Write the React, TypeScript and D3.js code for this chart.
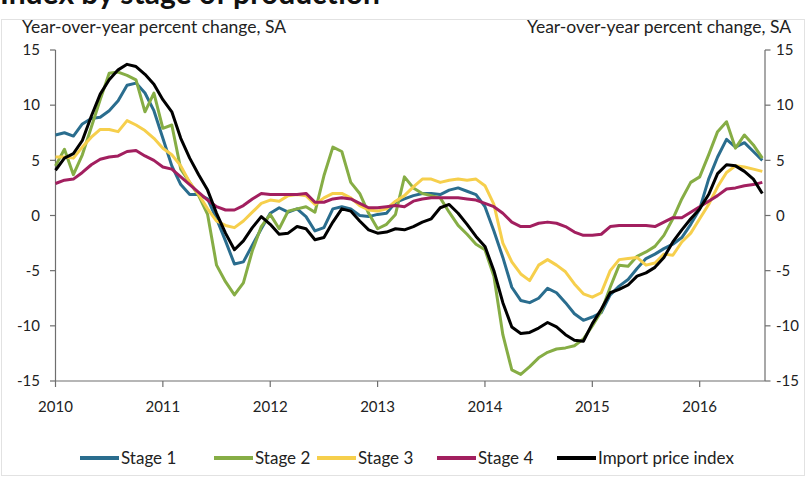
import * as d3 from "d3";

// monthly, Jan 2010 .. Aug 2016
const yearLabels = ["2010", "2011", "2012", "2013", "2014", "2015", "2016"];
const yTicks = [-15, -10, -5, 0, 5, 10, 15];

const stage1 = [
  7.3, 7.5, 7.2, 8.3, 8.8, 8.9, 9.5, 10.4, 11.8, 12.0,
  11.1, 9.5, 7.0, 4.5, 2.8, 1.9, 1.9, 1.5, -0.3, -2.3,
  -4.4, -4.2, -2.7, -1.2, 0.2, 0.7, 0.3, 0.6, -0.1, -1.4,
  -1.1, 0.6, 0.8, 0.6, 0.0, -0.1, 0.1, 0.2, 1.2, 1.5,
  1.8, 2.0, 2.0, 1.9, 2.3, 2.5, 2.2, 1.9, 0.8, -1.4,
  -3.8, -6.5, -7.7, -7.9, -7.5, -6.6, -7.0, -7.9, -8.9, -9.5,
  -9.2, -8.8, -7.2, -6.4, -5.8, -4.8, -3.9, -3.5, -3.0, -2.6,
  -2.0, -0.8, 0.6, 3.3, 5.3, 6.9, 6.2, 6.6, 5.8, 5.0,
];
const stage2 = [
  4.5, 6.0, 3.7, 5.5, 8.0, 10.5, 12.9, 13.0, 12.7, 12.3,
  9.4, 11.1, 7.9, 8.2, 4.2, 3.0, 1.8, 0.1, -4.5, -6.0,
  -7.2, -6.1, -3.2, -1.0, 0.1, -1.2, 0.4, 0.6, 0.8, 0.3,
  3.6, 6.2, 5.8, 3.0, 2.0, 0.2, -1.2, -0.8, 0.1, 3.5,
  2.5, 2.0, 1.8, 1.6, 0.3, -0.9, -1.7, -2.6, -3.1, -5.5,
  -10.8, -14.0, -14.4, -13.7, -12.9, -12.4, -12.1, -12.0, -11.8, -11.2,
  -10.0, -8.7, -6.5, -4.5, -4.6, -3.7, -3.3, -2.8, -1.8, -0.3,
  1.5, 3.0, 3.5, 5.5, 7.6, 8.5, 6.1, 7.3, 6.4, 5.2,
];
const stage3 = [
  5.3, 5.3, 5.2, 6.2, 7.1, 7.8, 7.8, 7.6, 8.6, 8.2,
  7.7, 7.0, 6.1, 5.5, 4.5, 3.0, 1.9, 0.6, -0.5, -0.9,
  -1.1, -0.5, 0.3, 1.1, 1.4, 1.3, 1.8, 1.9, 1.8, 1.0,
  1.6, 2.0, 2.0, 1.6, 0.9, 0.5, 0.4, 0.6, 1.3, 1.8,
  2.6, 3.3, 3.3, 3.0, 3.2, 3.3, 3.2, 3.3, 2.7, 1.0,
  -2.5, -4.2, -5.3, -5.9, -4.5, -4.0, -4.5, -5.1, -6.2, -7.1,
  -7.4, -7.0, -5.0, -4.0, -3.9, -3.8, -4.5, -4.3, -3.5, -3.6,
  -2.4, -1.6, -0.3, 1.0, 2.6, 3.9, 4.5, 4.4, 4.2, 4.0,
];
const stage4 = [
  2.9, 3.2, 3.3, 3.9, 4.6, 5.1, 5.3, 5.4, 5.8, 5.9,
  5.4, 5.0, 4.4, 4.2, 3.5, 2.8, 2.1, 1.4, 0.8, 0.5,
  0.5, 0.9, 1.5, 2.0, 1.9, 1.9, 1.9, 1.9, 2.0, 1.2,
  1.2, 1.5, 1.6, 1.5, 1.1, 0.7, 0.7, 0.8, 0.9, 0.8,
  1.3, 1.5, 1.6, 1.6, 1.6, 1.6, 1.5, 1.4, 1.1, 0.8,
  0.2, -0.6, -1.0, -1.0, -0.7, -0.6, -0.7, -1.0, -1.5, -1.8,
  -1.8, -1.7, -1.0, -0.9, -0.9, -0.9, -0.9, -1.0, -0.6, -0.2,
  -0.2, 0.3, 0.8, 1.3, 1.8, 2.4, 2.5, 2.7, 2.8, 3.0,
];
const importIndex = [
  4.1, 5.2, 5.6, 6.8, 9.0, 11.0, 12.3, 13.2, 13.7, 13.5,
  12.8, 11.9, 10.5, 9.4, 7.0, 5.2, 3.7, 2.3, 0.2, -1.6,
  -3.1, -2.3, -1.1, -0.1, -0.8, -1.7, -1.6, -1.0, -1.2, -2.2,
  -2.0, -0.6, 0.6, 0.4, -0.5, -1.3, -1.6, -1.5, -1.2, -1.3,
  -1.0, -0.6, -0.3, 0.7, 1.0, 0.2, -0.8, -1.9, -2.8, -5.0,
  -7.9, -10.1, -10.7, -10.6, -10.2, -9.7, -10.1, -10.8, -11.3, -11.4,
  -9.8, -8.5, -7.0, -6.7, -6.3, -5.5, -5.2, -4.7, -3.8, -2.4,
  -1.3, -0.3, 0.6, 1.9, 3.8, 4.6, 4.5, 4.0, 3.3, 2.0,
];

const seriesNames = ["Stage 1", "Stage 2", "Stage 3", "Stage 4", "Import price index"];
const seriesColors = ["#2a6d8e", "#86ad45", "#f6cf4c", "#a21f5f", "#000000"];
const seriesValues = [stage1, stage2, stage3, stage4, importIndex];

const W = 809;
const H = 478;
const font = "Lato, 'Open Sans', sans-serif";

export default function App() {
  const x = d3.scaleLinear().domain([0, 79.3]).range([55.5, 765]);
  const y = d3.scaleLinear().domain([-15, 15]).range([381, 50]);
  const line = d3.line<number>().x((_, i) => x(i)).y(d => y(d));
  const axisColor = "#6e6e6e";

  // legend item starts: 38px swatch then label
  const legendX = [80, 214, 317, 437, 557];

  return (
    <svg width={W} height={H} style={{ position: "absolute", left: 0, top: 0 }} fontFamily={font}>
      <rect x={0} y={0} width={W} height={H} fill="#fff" />
      <rect x={1.5} y={19.5} width={803} height={456} fill="none" stroke="#e2e2e2" />
      {/* title, cropped at the top like the source */}
      <text x={0} y={4} fontSize={30} fontWeight="bold" fill="#111">Index by stage of production</text>

      <text x={22} y={33} fontSize={17.5} fill="#222">Year-over-year percent change, SA</text>
      <text x={791} y={33} fontSize={17.5} fill="#222" textAnchor="end">Year-over-year percent change, SA</text>

      {/* left axis */}
      <line x1={55.5} x2={55.5} y1={y(15)} y2={y(-15)} stroke={axisColor} strokeWidth={1.2} />
      {yTicks.map(t => (
        <g key={"l" + t}>
          <line x1={50} x2={55.5} y1={y(t)} y2={y(t)} stroke={axisColor} strokeWidth={1.2} />
          <text x={40} y={y(t)} dy="0.35em" textAnchor="end" fontSize={15} fill="#222">{t}</text>
        </g>
      ))}

      {/* right axis */}
      <line x1={765} x2={765} y1={y(15)} y2={y(-15)} stroke={axisColor} strokeWidth={1.2} />
      {yTicks.map(t => (
        <g key={"r" + t}>
          <line x1={765} x2={770.5} y1={y(t)} y2={y(t)} stroke={axisColor} strokeWidth={1.2} />
          <text x={776} y={y(t)} dy="0.35em" textAnchor="start" fontSize={15} fill="#222">{t}</text>
        </g>
      ))}

      {/* x axis */}
      <line x1={55.5} x2={765} y1={y(-15)} y2={y(-15)} stroke={axisColor} strokeWidth={1.2} />
      {yearLabels.map((lab, i) => (
        <g key={lab}>
          <line x1={x(i * 12)} x2={x(i * 12)} y1={y(-15)} y2={y(-15) + 6} stroke={axisColor} strokeWidth={1.2} />
          <text x={x(i * 12)} y={407} dy="0.35em" textAnchor="middle" fontSize={15} fill="#222">{lab}</text>
        </g>
      ))}

      {seriesValues.map((vals, i) => (
        <path key={seriesNames[i]} d={line(vals) ?? ""} fill="none" stroke={seriesColors[i]}
          strokeWidth={3} strokeLinejoin="round" />
      ))}

      {seriesNames.map((name, i) => (
        <g key={"lg" + name} transform={`translate(${legendX[i]},458)`}>
          <line x1={0} x2={39} y1={0} y2={0} stroke={seriesColors[i]} strokeWidth={4} />
          <text x={41} y={0} dy="0.35em" fontSize={17} fill="#222">{name}</text>
        </g>
      ))}
    </svg>
  );
}
